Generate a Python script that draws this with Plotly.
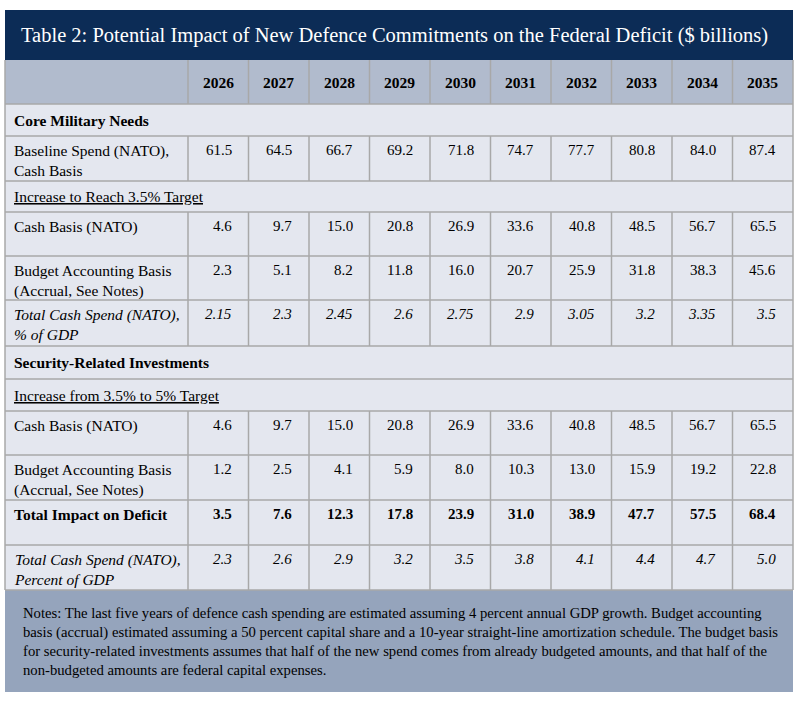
import plotly.graph_objects as go

# table content
title = "Table 2: Potential Impact of New Defence Commitments on the Federal Deficit ($ billions)"
years = ["2026", "2027", "2028", "2029", "2030", "2031", "2032", "2033", "2034", "2035"]

baseline_cash = [61.5, 64.5, 66.7, 69.2, 71.8, 74.7, 77.7, 80.8, 84.0, 87.4]
core_cash = [4.6, 9.7, 15.0, 20.8, 26.9, 33.6, 40.8, 48.5, 56.7, 65.5]
core_budget = [2.3, 5.1, 8.2, 11.8, 16.0, 20.7, 25.9, 31.8, 38.3, 45.6]
core_gdp = [2.15, 2.3, 2.45, 2.6, 2.75, 2.9, 3.05, 3.2, 3.35, 3.5]
sec_cash = [4.6, 9.7, 15.0, 20.8, 26.9, 33.6, 40.8, 48.5, 56.7, 65.5]
sec_budget = [1.2, 2.5, 4.1, 5.9, 8.0, 10.3, 13.0, 15.9, 19.2, 22.8]
total_impact = [3.5, 7.6, 12.3, 17.8, 23.9, 31.0, 38.9, 47.7, 57.5, 68.4]
sec_gdp = [2.3, 2.6, 2.9, 3.2, 3.5, 3.8, 4.1, 4.4, 4.7, 5.0]

notes = ("Notes: The last five years of defence cash spending are estimated assuming 4 percent annual GDP growth. Budget accounting<br>"
         "basis (accrual) estimated assuming a 50 percent capital share and a 10-year straight-line amortization schedule. The budget basis<br>"
         "for security-related investments assumes that half of the new spend comes from already budgeted amounts, and that half of the<br>"
         "non-budgeted amounts are federal capital expenses.")

# (kind, label, values, number format, text style)
rows = [
    ("header", "", years, None, "b"),
    ("section", "Core Military Needs", None, None, "b"),
    ("data", "Baseline Spend (NATO),<br>Cash Basis", baseline_cash, "{:.1f}", ""),
    ("sub", "Increase to Reach 3.5% Target", None, None, "u"),
    ("data", "Cash Basis (NATO)", core_cash, "{:.1f}", ""),
    ("data", "Budget Accounting Basis<br>(Accrual, See Notes)", core_budget, "{:.1f}", ""),
    ("data", "Total Cash Spend (NATO),<br>% of GDP", core_gdp, "{:g}", "i"),
    ("section", "Security-Related Investments", None, None, "b"),
    ("sub", "Increase from 3.5% to 5% Target", None, None, "u"),
    ("data", "Cash Basis (NATO)", sec_cash, "{:.1f}", ""),
    ("data", "Budget Accounting Basis<br>(Accrual, See Notes)", sec_budget, "{:.1f}", ""),
    ("data", "Total Impact on Deficit", total_impact, "{:.1f}", "b"),
    ("data", "Total Cash Spend (NATO),<br>Percent of GDP", sec_gdp, "{:.1f}", "i"),
]

# layout in page pixels
row_h = [44, 32, 45, 31, 44, 44, 46, 33, 32, 44, 45, 45, 45]
left, right = 5, 793
label_w = 183
col_w = (right - left - label_w) / len(years)
title_top, table_top, notes_bottom = 10, 60, 692

navy = "#0c2c56"
head_fill = "#b1bbcd"
body_fill = "#e4e7ef"
notes_fill = "#95a4bc"
grid = "#a8a8a8"
font = "Liberation Serif"


def wrap(txt, style):
    if style:
        return "<%s>%s</%s>" % (style, txt, style)
    return txt


col_edges = [left, left + label_w] + [left + label_w + col_w * (i + 1) for i in range(len(years))]
row_edges = [table_top]
for h in row_h:
    row_edges.append(row_edges[-1] + h)

shapes = []
annotations = []

# title band
shapes.append(dict(type="rect", x0=left, x1=right, y0=title_top, y1=table_top,
                   fillcolor=navy, line_width=0, layer="below"))
annotations.append(dict(x=left + 14, y=(title_top + table_top) / 2, text=title,
                        xanchor="left", yanchor="middle", showarrow=False,
                        font=dict(family=font, size=20.5, color="white")))

for r, (kind, label, values, fmt, style) in enumerate(rows):
    y0, y1 = row_edges[r], row_edges[r + 1]
    fill = head_fill if kind == "header" else body_fill
    shapes.append(dict(type="rect", x0=left, x1=right, y0=y0, y1=y1,
                       fillcolor=fill, line_width=0, layer="below"))
    # horizontal rule under the row
    shapes.append(dict(type="line", x0=left, x1=right, y0=y1, y1=y1,
                       line=dict(color=grid, width=1.5)))
    if kind in ("header", "data"):
        for xe in col_edges[1:-1]:
            shapes.append(dict(type="line", x0=xe, x1=xe, y0=y0, y1=y1,
                               line=dict(color=grid, width=1.5)))

    if kind in ("section", "sub"):
        annotations.append(dict(x=left + 7, y=(y0 + y1) / 2, text=wrap(label, style),
                                xanchor="left", yanchor="middle", showarrow=False,
                                font=dict(family=font, size=15.5, color="black")))
    elif kind == "header":
        for i, yr in enumerate(values):
            annotations.append(dict(x=(col_edges[i + 1] + col_edges[i + 2]) / 2, y=(y0 + y1) / 2,
                                    text=wrap(yr, style), xanchor="center", yanchor="middle",
                                    showarrow=False,
                                    font=dict(family=font, size=15.5, color="black")))
    else:
        annotations.append(dict(x=left + 7, y=y0 + 4, text=wrap(label, style),
                                xanchor="left", yanchor="top", align="left", showarrow=False,
                                font=dict(family=font, size=15.5, color="black")))
        for i, v in enumerate(values):
            annotations.append(dict(x=col_edges[i + 2] - 15, y=y0 + 4,
                                    text=wrap(fmt.format(v), style),
                                    xanchor="right", yanchor="top", showarrow=False,
                                    font=dict(family=font, size=15, color="black")))

# outer border of the table body
for xe in (left, right):
    shapes.append(dict(type="line", x0=xe, x1=xe, y0=table_top, y1=row_edges[-1],
                       line=dict(color=grid, width=1.5)))

# notes band
shapes.append(dict(type="rect", x0=left, x1=right, y0=row_edges[-1], y1=notes_bottom,
                   fillcolor=notes_fill, line_width=0, layer="below"))
annotations.append(dict(x=left + 16, y=(row_edges[-1] + notes_bottom) / 2, text=notes,
                        xanchor="left", yanchor="middle", align="left", showarrow=False,
                        font=dict(family=font, size=14.7, color="black")))

fig = go.Figure()
fig.update_layout(
    width=800, height=702,
    margin=dict(l=0, r=0, t=0, b=0),
    paper_bgcolor="white", plot_bgcolor="white",
    xaxis=dict(range=[0, 800], visible=False, fixedrange=True),
    yaxis=dict(range=[702, 0], visible=False, fixedrange=True),
    shapes=shapes, annotations=annotations,
    showlegend=False,
)

fig.write_html("out.html", config={"displayModeBar": False},
               post_script="document.body.style.margin='0';")
